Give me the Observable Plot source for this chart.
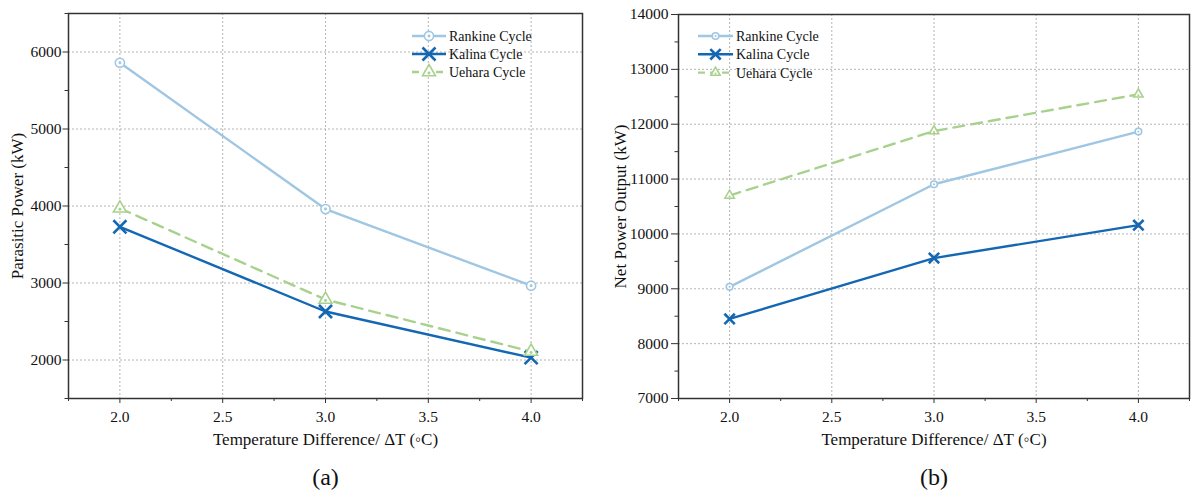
<!DOCTYPE html>
<html><head><meta charset="utf-8">
<script src="https://cdn.jsdelivr.net/npm/d3@7"></script>
<script src="https://cdn.jsdelivr.net/npm/@observablehq/plot@0.6"></script>
<style>
body{margin:0;background:#fff}
#wrap{display:flex;width:1200px;height:496px;overflow:hidden}
#wrap svg{display:block}
</style>
</head><body><div id="wrap"></div>
<script>
// ---- data ----
const deltaT = [2.0, 3.0, 4.0];
const seriesNames = ["Rankine Cycle", "Kalina Cycle", "Uehara Cycle"];
const parasiticRankine = [5860, 3960, 2965];
const parasiticKalina  = [3730, 2630, 2030];
const parasiticUehara  = [3970, 2785, 2110];
const netRankine = [9035, 10905, 11865];
const netKalina  = [8450, 9560, 10160];
const netUehara  = [10700, 11875, 12545];
const xTicks = [2.0, 2.5, 3.0, 3.5, 4.0];
const xMinor = [1.75, 2.25, 2.75, 3.25, 3.75, 4.25];
const yTicksA = [2000, 3000, 4000, 5000, 6000];
const yMinorA = [1500, 2500, 3500, 4500, 5500, 6500];
const yTicksB = [7000, 8000, 9000, 10000, 11000, 12000, 13000, 14000];
const yMinorB = [7500, 8500, 9500, 10500, 11500, 12500, 13500];
const xLabel = "Temperature Difference/ ΔT (◦C)";
const yLabelA = "Parasitic Power (kW)";
const yLabelB = "Net Power Output (kW)";

const FONT = "Liberation Serif, Times New Roman, serif";
const styles = {
  "Rankine Cycle": {color: "#9fc6e2", symbol: "circle", dash: null, width: 2.4},
  "Kalina Cycle":  {color: "#1467b3", symbol: "times", dash: null, width: 2.4},
  "Uehara Cycle":  {color: "#a9d18e", symbol: "triangle", dash: "11,7", width: 2.4}
};

function table(vals) {
  const rows = [];
  seriesNames.forEach((s, i) => vals[i].forEach((v, j) => rows.push({series: s, x: deltaT[j], y: v})));
  return rows;
}

function panel(cfg) {
  const data = table(cfg.values);
  const fmtX = d3.format(".1f");
  const marks = [
    Plot.gridX(xTicks, {stroke: "#b4b4b4", strokeOpacity: 1, strokeDasharray: "2,2"}),
    Plot.gridY(cfg.yTicks, {stroke: "#b4b4b4", strokeOpacity: 1, strokeDasharray: "2,2"}),
    Plot.axisX({ticks: xTicks, tickSize: 5, text: null, label: null, stroke: "#333"}),
    Plot.axisX({ticks: xMinor, tickSize: 3, text: null, label: null, stroke: "#333"}),
    Plot.axisY({ticks: cfg.yTicks, tickSize: cfg.tick, text: null, label: null, stroke: "#333"}),
    Plot.axisY({ticks: cfg.yMinor, tickSize: 3.5, text: null, label: null, stroke: "#333"}),
    Plot.text(xTicks, {x: d => d, frameAnchor: "bottom", lineAnchor: "middle", textAnchor: "middle", dy: 19, text: d => fmtX(d), fontSize: 15.5, fill: "#111", fontFamily: FONT}),
    Plot.text(cfg.yTicks, {y: d => d, frameAnchor: "left", lineAnchor: "middle", textAnchor: "end", dx: cfg.tickDx, text: d => String(d), fontSize: 15.5, fill: "#111", fontFamily: FONT})
  ];
  for (const s of seriesNames) {
    const st = styles[s];
    const d = data.filter(r => r.series === s);
    marks.push(Plot.line(d, {x: "x", y: "y", stroke: st.color, strokeWidth: st.width, strokeDasharray: st.dash}));
  }
  for (const s of seriesNames) {
    const st = styles[s];
    const d = data.filter(r => r.series === s);
    if (st.symbol === "times") {
      marks.push(Plot.dot(d, {x: "x", y: "y", symbol: "times", r: cfg.r * cfg.xf, stroke: st.color, strokeWidth: 2.6}));
    } else {
      marks.push(Plot.dot(d, {x: "x", y: "y", symbol: st.symbol, r: st.symbol === "triangle" ? cfg.r * 1.05 : cfg.r, stroke: st.color, fill: "white", strokeWidth: 1.6}));
      marks.push(Plot.dot(d, {x: "x", y: "y", r: cfg.r * 0.32, fill: st.color, dy: st.symbol === "triangle" ? 1 : 0}));
    }
  }
  marks.push(Plot.frame({stroke: "#333", strokeWidth: 1.5}));
  marks.push(Plot.text([xLabel], {frameAnchor: "bottom", lineAnchor: "middle", textAnchor: "middle", dy: 41, text: d => d, fontSize: 17, fill: "#111", fontFamily: FONT}));
  marks.push(Plot.text([cfg.tag], {frameAnchor: "bottom", lineAnchor: "middle", textAnchor: "middle", dy: 79, text: d => d, fontSize: 24, fill: "#111", fontFamily: FONT}));
  marks.push(Plot.text([cfg.yLabel], {frameAnchor: "left", lineAnchor: "middle", textAnchor: "middle", dx: cfg.yLabelDx, rotate: -90, text: d => d, fontSize: 17, fill: "#111", fontFamily: FONT}));

  const svg = Plot.plot({
    width: 600, height: 496,
    marginLeft: cfg.ml, marginRight: cfg.mr, marginTop: cfg.mt, marginBottom: 98,
    style: {fontFamily: FONT, fontSize: "14px", color: "#111", background: "white"},
    x: {domain: [1.75, 4.25]},
    y: {domain: cfg.yDomain},
    marks
  });

  // legend
  const g = d3.select(svg).append("g").attr("font-family", FONT).attr("font-size", cfg.legendFont).attr("text-anchor", "start");
  seriesNames.forEach((s, i) => {
    const st = styles[s];
    const y = cfg.legend.y + i * cfg.legend.step;
    const x0 = cfg.legend.x, x1 = cfg.legend.x + cfg.legend.len, xm = (x0 + x1) / 2;
    g.append("line").attr("x1", x0).attr("x2", x1).attr("y1", y).attr("y2", y)
      .attr("stroke", st.color).attr("stroke-width", st.width).attr("stroke-dasharray", st.dash ? "7,5" : null);
    const rr = cfg.r;
    if (st.symbol === "times") {
      g.append("path").attr("transform", `translate(${xm},${y})`)
        .attr("d", d3.symbol(d3.symbolTimes, Math.PI * (rr * cfg.xf) ** 2)())
        .attr("stroke", st.color).attr("stroke-width", 2.6).attr("fill", "none");
    } else {
      const r2 = st.symbol === "triangle" ? rr * 1.05 : rr;
      g.append("path").attr("transform", `translate(${xm},${y})`)
        .attr("d", d3.symbol(st.symbol === "circle" ? d3.symbolCircle : d3.symbolTriangle, Math.PI * r2 * r2)())
        .attr("stroke", st.color).attr("stroke-width", 1.6).attr("fill", "white");
      g.append("circle").attr("cx", xm).attr("cy", y + (st.symbol === "triangle" ? 1 : 0)).attr("r", rr * 0.32).attr("fill", st.color);
    }
    g.append("text").attr("x", x1 + 3).attr("y", y).attr("dy", "0.35em").attr("fill", "#111").text(s);
  });
  return svg;
}

const wrap = document.getElementById("wrap");
wrap.appendChild(panel({
  values: [parasiticRankine, parasiticKalina, parasiticUehara],
  yDomain: [1500, 6500], yTicks: yTicksA, yMinor: yMinorA,
  ml: 68, mr: 18, mt: 13, r: 4.6, xf: 1.3, tag: "(a)", tick: 5.5, tickDx: -7,
  yLabel: yLabelA, yLabelDx: -51,
  legend: {x: 412, len: 34, y: 36, step: 18}, legendFont: 14
}));
wrap.appendChild(panel({
  values: [netRankine, netKalina, netUehara],
  yDomain: [7000, 14000], yTicks: yTicksB, yMinor: yMinorB,
  ml: 78, mr: 11, mt: 14, r: 3.3, xf: 1.45, tag: "(b)", tick: 7, tickDx: -10,
  yLabel: yLabelB, yLabelDx: -58,
  legend: {x: 98, len: 35, y: 36, step: 18.3}, legendFont: 14
}));
</script>
</body></html>
